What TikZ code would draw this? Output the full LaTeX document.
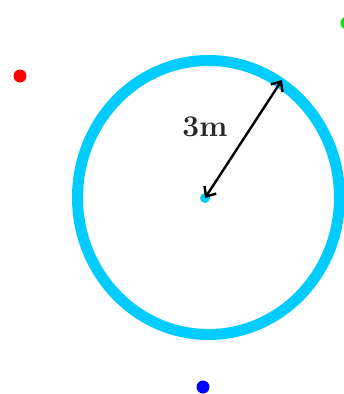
\documentclass[tikz,border=0pt]{standalone}
\usetikzlibrary{arrows.meta}
\definecolor{ringcyan}{RGB}{0,204,255}
\definecolor{dotgreen}{RGB}{0,235,0}
\definecolor{dotblue}{RGB}{0,0,255}
\definecolor{dotred}{RGB}{255,0,0}
\begin{document}
\begin{tikzpicture}[x=1pt,y=-1pt,
  dot/.style={circle,inner sep=0pt,minimum size=13pt},
  ring/.style={draw=ringcyan,line width=11pt},
  dimarrow/.style={line width=2.4pt,{Straight Barb[length=8pt,width=14pt,line width=2.4pt]}-{Straight Barb[length=8pt,width=14pt,line width=2.4pt]}},
  lbl/.style={font=\fontsize{30}{32}\selectfont\bfseries,text=black!85}]
\useasboundingbox (0,0) rectangle (344,394);
\draw[ring] (208.5,197.5) ellipse [x radius=131, y radius=137];
\node[dot,fill=ringcyan,minimum size=10pt] (c) at (205,198) {};
\coordinate (t) at (282,80);
\draw[dimarrow] (c.center) -- (t);
\node[lbl] (l) at (205,127) {3m};
\node[dot,fill=dotred] (r) at (20,76) {};
\node[dot,fill=dotgreen] (g) at (347,23) {};
\node[dot,fill=dotblue] (b) at (203,387) {};
\end{tikzpicture}
\end{document}
